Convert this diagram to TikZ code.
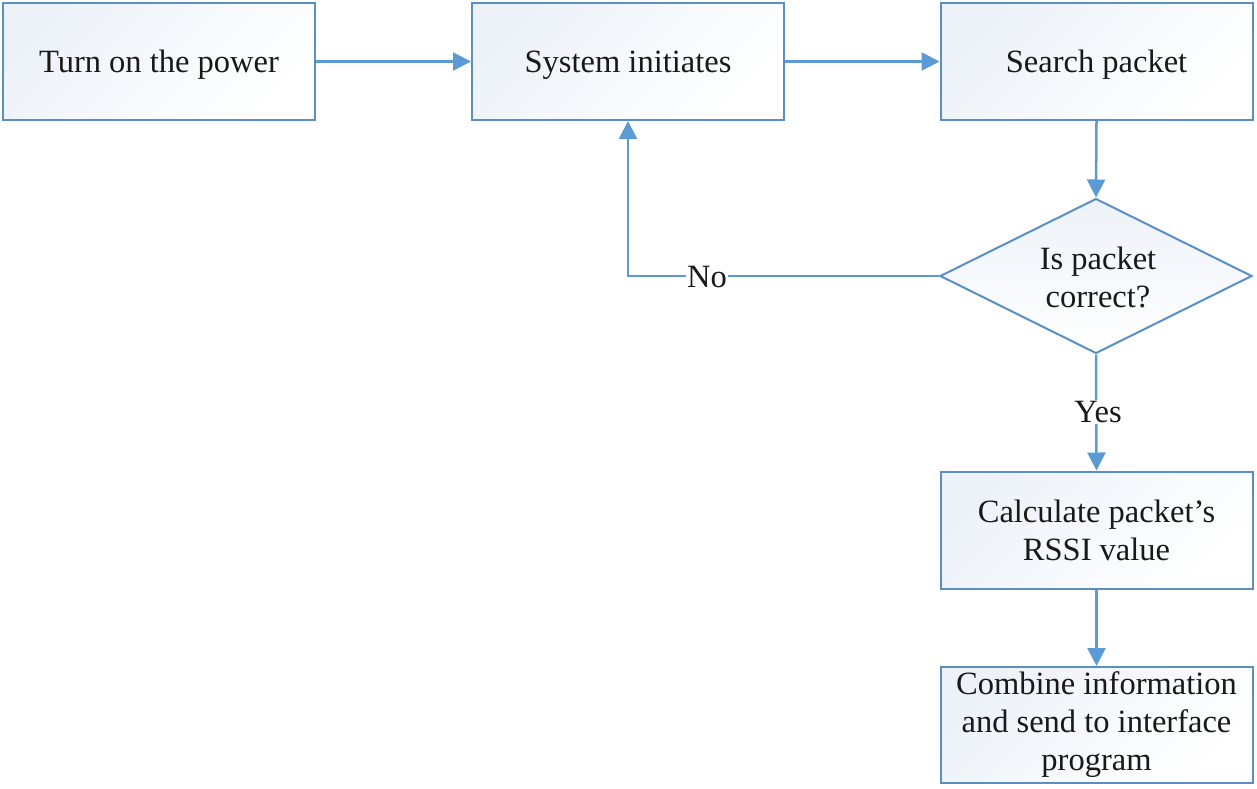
\documentclass[tikz,border=0pt]{standalone}
\usepackage{fontspec}
\setmainfont{Liberation Serif}
\usetikzlibrary{arrows.meta,shapes.geometric,shadings}
\definecolor{edgeblue}{HTML}{5A8FC6}
\definecolor{arrowblue}{HTML}{5B9BD5}
\definecolor{fillblue}{HTML}{EDF2F9}
\begin{document}
\begin{tikzpicture}[x=1pt,y=-1pt,
  box/.style={draw=edgeblue, line width=2pt, top color=fillblue, bottom color=white, shading angle=45,
    minimum width=312pt, minimum height=117pt, align=center, inner sep=0pt,
    font=\fontsize{32.5}{38}\selectfont, text=black!90},
  onebox/.style={box, text depth=0pt},
  dec/.style={draw=edgeblue, line width=2pt, diamond, top color=fillblue, bottom color=white,
    minimum width=312pt, minimum height=155pt, inner sep=0pt},
  conn/.style={draw=arrowblue, line width=2.5pt, -{Triangle[width=18pt,length=18pt]}},
  lbl/.style={fill=white, inner sep=1pt, font=\fontsize{32.5}{38}\selectfont, text=black!90}]
\useasboundingbox (0,0) rectangle (1257,788);
\node[onebox] (power) at (159,61.5) {Turn on the power};
\node[onebox] (sys) at (628,61.5) {System initiates};
\node[onebox] (search) at (1096.5,61.5) {Search packet};
\node[dec, shape aspect=2] (dec) at (1096,276) {};
\node[align=center, font=\fontsize{32.5}{38}\selectfont, text=black!90] (dectext) at (1098,277) {Is packet\\correct?};
\node[box] (calc) at (1096.5,530) {Calculate packet’s\\RSSI value};
\node[box, minimum height=116pt] (comb) at (1096.5,725) {Combine information\\and send to interface\\program};
\coordinate (corner) at (628,276);
\draw[conn] (power.east) -- (sys.west);
\draw[conn] (sys.east) -- (search.west);
\draw[conn] (search.south) -- (dec.north);
\draw[conn] (dec.west) -- (corner) -- (sys.south);
\node[lbl] (no) at (707,277) {No};
\draw[conn] (dec.south) -- (calc.north);
\node[lbl] (yes) at (1098,412) {Yes};
\draw[conn] (calc.south) -- (comb.north);
\end{tikzpicture}
\end{document}
